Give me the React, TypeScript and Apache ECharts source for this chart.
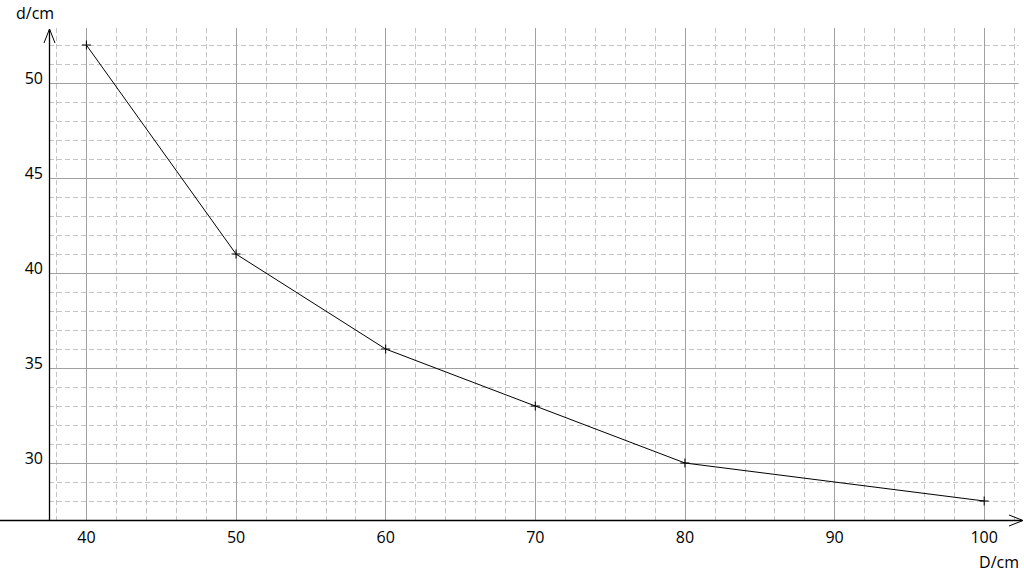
import React, { useEffect, useRef } from "react";
import * as echarts from "echarts";

const xValues = [40, 50, 60, 70, 80, 100];
const yValues = [52, 41, 36, 33, 30, 28];
const xMajorTicks = [40, 50, 60, 70, 80, 90, 100];
const xMinorTicks = [38, 42, 44, 46, 48, 52, 54, 56, 58, 62, 64, 66, 68, 72, 74, 76, 78, 82, 84, 86, 88, 92, 94, 96, 98, 102];
const yMajorTicks = [30, 35, 40, 45, 50];
const yMinorTicks = [28, 29, 31, 32, 33, 34, 36, 37, 38, 39, 41, 42, 43, 44, 46, 47, 48, 49, 51, 52];
const xName = "D/cm";
const yName = "d/cm";

const X_MIN = 37.5;
const X_MAX = 102.3;
const Y_MIN = 27;
const Y_MAX = 52.9;

const FONT = "'Open Sans', 'Noto Sans', sans-serif";

export default function App() {
  const ref = useRef<HTMLDivElement>(null);
  useEffect(() => {
    if (!ref.current) return;
    const chart = echarts.init(ref.current, undefined, { renderer: "svg" });
    const plus = "path://M4,0 L5,0 L5,4 L9,4 L9,5 L5,5 L5,9 L4,9 L4,5 L0,5 L0,4 L4,4 Z";
    chart.setOption({
      animation: false,
      backgroundColor: "#ffffff",
      grid: { left: 49, right: 5.4, top: 28, bottom: 56, containLabel: false },
      xAxis: [
        {
          type: "value",
          min: X_MIN,
          max: X_MAX,
          z: 1,
          axisLine: { show: false },
          axisTick: { show: false, customValues: xMajorTicks },
          axisLabel: { customValues: xMajorTicks, fontSize: 16, color: "#000", margin: 9, fontFamily: FONT },
          splitLine: { show: true, lineStyle: { color: "#a0a0a0", width: 1, type: "solid" } },
        },
        {
          type: "value",
          min: X_MIN,
          max: X_MAX,
          z: 0,
          axisLine: { show: false },
          axisTick: { show: false, customValues: xMinorTicks },
          axisLabel: { show: false, customValues: xMinorTicks },
          splitLine: { show: true, lineStyle: { color: "#c4c4c4", width: 1, type: [5, 3] } },
        },
      ],
      yAxis: [
        {
          type: "value",
          min: Y_MIN,
          max: Y_MAX,
          z: 1,
          axisLine: { show: false },
          axisTick: { show: false, customValues: yMajorTicks },
          axisLabel: { customValues: yMajorTicks, fontSize: 16, color: "#000", margin: 6, fontFamily: FONT, verticalAlign: "bottom", lineHeight: 11 },
          splitLine: { show: true, lineStyle: { color: "#a0a0a0", width: 1, type: "solid" } },
        },
        {
          type: "value",
          min: Y_MIN,
          max: Y_MAX,
          z: 0,
          axisLine: { show: false },
          axisTick: { show: false, customValues: yMinorTicks },
          axisLabel: { show: false, customValues: yMinorTicks },
          splitLine: { show: true, lineStyle: { color: "#c4c4c4", width: 1, type: [5, 3] } },
        },
      ],
      series: [
        {
          type: "line",
          xAxisIndex: 0,
          yAxisIndex: 0,
          z: 5,
          data: xValues.map((x, i) => [x, yValues[i]]),
          lineStyle: { color: "#000", width: 1 },
          itemStyle: { color: "#000" },
          symbol: plus,
          symbolSize: 9,
          showSymbol: true,
        },
      ],
      graphic: [
        { type: "line", z: 10, shape: { x1: 0, y1: 520.5, x2: 1022, y2: 520.5 }, style: { stroke: "#000", lineWidth: 1.3 } },
        { type: "polyline", z: 10, shape: { points: [[1009, 515], [1023, 520.5], [1009, 526]] }, style: { stroke: "#000", lineWidth: 1, fill: "none" } },
        { type: "line", z: 10, shape: { x1: 49.5, y1: 520.5, x2: 49.5, y2: 29 }, style: { stroke: "#000", lineWidth: 1.3 } },
        { type: "polyline", z: 10, shape: { points: [[44, 43], [49.5, 29], [55, 43]] }, style: { stroke: "#000", lineWidth: 1, fill: "none" } },
        { type: "text", z: 10, style: { text: yName, x: 16, y: 5, font: `16px ${FONT}`, fill: "#000", textAlign: "left", textVerticalAlign: "top" } },
        { type: "text", z: 10, style: { text: xName, x: 1019, y: 554, font: `16px ${FONT}`, fill: "#000", textAlign: "right", textVerticalAlign: "top" } },
      ],
    });
    return () => chart.dispose();
  }, []);
  return <div ref={ref} style={{ position: "absolute", left: 0, top: 0, width: 1024, height: 576 }} />;
}
